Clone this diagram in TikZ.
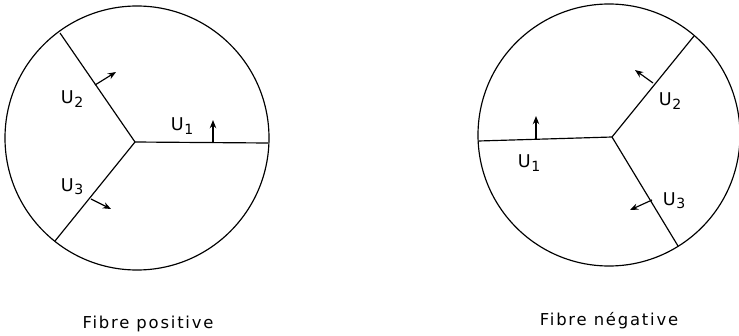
\documentclass[tikz,border=0pt]{standalone}
\usepackage{fontspec}
\setsansfont{DejaVu Sans}
\newfontfamily\capfont[LetterSpace=11]{DejaVu Sans}
\usetikzlibrary{arrows.meta}

\newcommand{\usub}[1]{U\kern0.5pt\raisebox{-0.35ex}{\fontsize{12}{12}\selectfont#1}}

\begin{document}
\begin{tikzpicture}[
    x=0.03cm, y=-0.03cm,
    wall/.style={line width=1pt},
    vec/.style={-{Stealth[length=7pt, width=5.5pt]}, line width=1pt},
    lab/.style={font=\sffamily\fontsize{15}{15}\selectfont, inner sep=0pt},
    caption/.style={font=\capfont\fontsize{14}{14}\selectfont, inner sep=0pt}
]
    \useasboundingbox (0,0) rectangle (739,335);

    % positive fibre
    \draw[wall] (137,138) circle[radius=132];
    \coordinate (jp) at (135,142);
    \coordinate (p1) at (268,143);
    \coordinate (p2) at (60,33);
    \coordinate (p3) at (55,241);
    \draw[wall] (jp) -- (p1);
    \draw[wall] (jp) -- (p2);
    \draw[wall] (jp) -- (p3);

    \coordinate (pa1) at (213,143);
    \coordinate (pb1) at (213,120);
    \coordinate (pa2) at (95,85);
    \coordinate (pb2) at (116,72);
    \coordinate (pa3) at (91,199);
    \coordinate (pb3) at (111,209);
    \draw[vec] (pa1) -- (pb1);
    \draw[vec] (pa2) -- (pb2);
    \draw[vec] (pa3) -- (pb3);

    \node[lab] (pu1) at (182,126) {\usub{1}};
    \node[lab] (pu2) at (72,99) {\usub{2}};
    \node[lab] (pu3) at (72,187) {\usub{3}};

    % negative fibre
    \draw[wall] (609,135) circle[radius=131];
    \coordinate (jn) at (612,137);
    \coordinate (n1) at (478.5,141);
    \coordinate (n2) at (694,36);
    \coordinate (n3) at (678,246);
    \draw[wall] (jn) -- (n1);
    \draw[wall] (jn) -- (n2);
    \draw[wall] (jn) -- (n3);

    \coordinate (na1) at (536,139);
    \coordinate (nb1) at (536,116);
    \coordinate (na2) at (653,83);
    \coordinate (nb2) at (635,70);
    \coordinate (na3) at (652,200);
    \coordinate (nb3) at (630,210);
    \draw[vec] (na1) -- (nb1);
    \draw[vec] (na2) -- (nb2);
    \draw[vec] (na3) -- (nb3);

    \node[lab] (nu1) at (529,163) {\usub{1}};
    \node[lab] (nu2) at (670,101) {\usub{2}};
    \node[lab] (nu3) at (674,201) {\usub{3}};

    % captions
    \node[caption] (cpos) at (148,324) {Fibre positive};
    \node[caption] (cneg) at (609,321) {Fibre négative};
\end{tikzpicture}
\end{document}
